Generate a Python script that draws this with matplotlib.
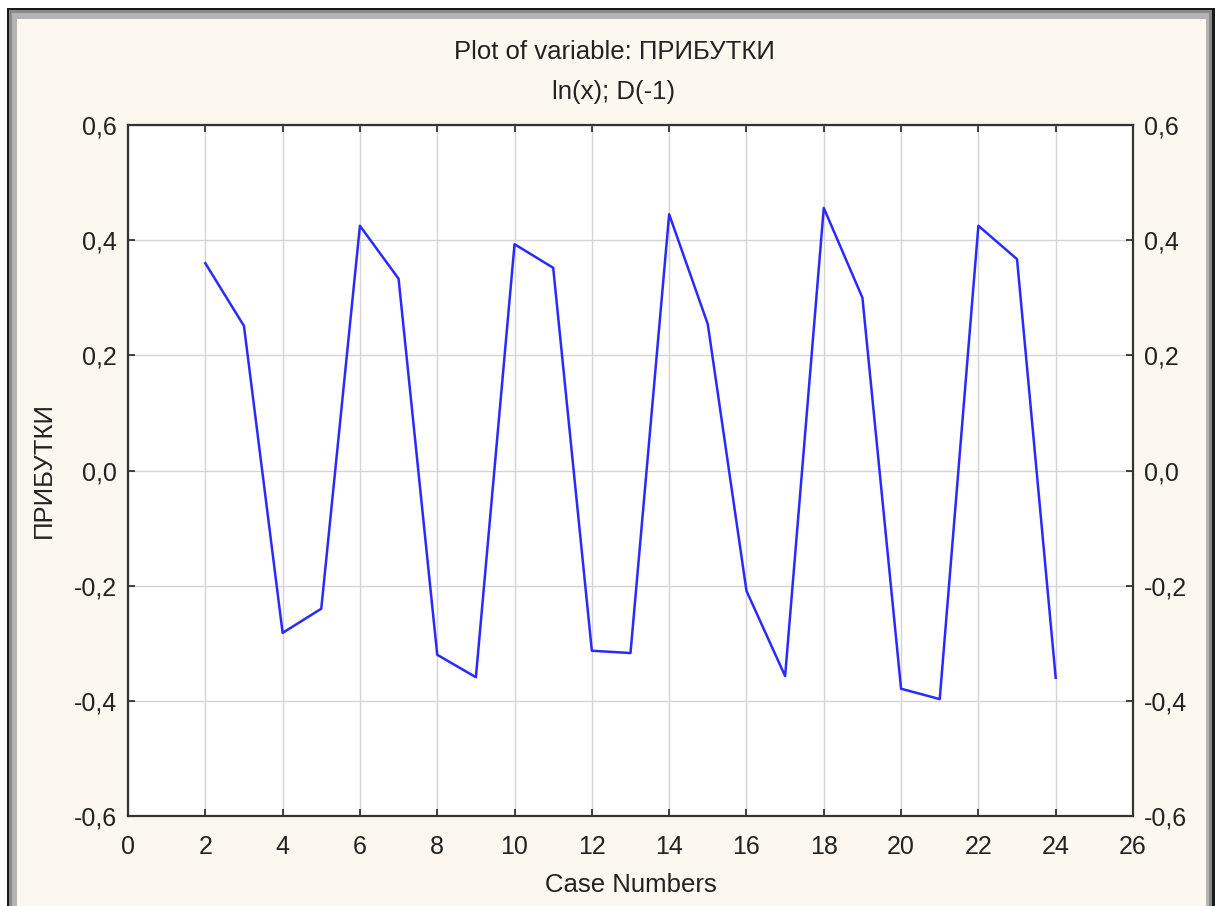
import numpy as np
import matplotlib
matplotlib.use("Agg")
import matplotlib.pyplot as plt
from matplotlib.patches import Rectangle
from matplotlib.ticker import FuncFormatter

plt.rcParams['font.family'] = ['Liberation Sans', 'DejaVu Sans']

# values
case_numbers = [2, 3, 4, 5, 6, 7, 8, 9, 10, 11, 12, 13, 14, 15, 16, 17, 18, 19, 20, 21, 22, 23, 24]
profits = [0.360, 0.251, -0.282, -0.240, 0.425, 0.333, -0.320, -0.359, 0.393, 0.352,
           -0.313, -0.317, 0.445, 0.254, -0.209, -0.357, 0.456, 0.300, -0.379, -0.397,
           0.425, 0.367, -0.360]
x_ticks = list(range(0, 27, 2))
y_ticks = [-0.6, -0.4, -0.2, 0.0, 0.2, 0.4, 0.6]

W, H = 1221, 906
fig = plt.figure(figsize=(W / 100, H / 100), dpi=100)
fig.patch.set_facecolor('white')

# window frame: black outline, gray bevel, cream fill
def px_rect(x0, y0, x1, y1, color):
    fig.patches.append(Rectangle((x0 / W, 1 - y1 / H), (x1 - x0) / W, (y1 - y0) / H,
                                 transform=fig.transFigure, facecolor=color,
                                 edgecolor='none', zorder=-10))

px_rect(7, 8, 1215, 920, '#1a1a1a')
px_rect(9, 10, 1212, 920, '#8a8a8a')
px_rect(12, 13, 1209, 920, '#b4b4b4')
px_rect(17, 19, 1206, 920, '#fdf8ef')

ax = fig.add_axes([128 / W, 1 - 816 / H, (1133 - 128) / W, (816 - 125) / H])
ax.set_facecolor('white')
ax.plot(case_numbers, profits, color='#2a2aff', linewidth=1.8)

ax.set_xlim(0, 26)
ax.set_ylim(-0.6, 0.6)
ax.set_xticks(x_ticks)
ax.set_yticks(y_ticks)
ax.yaxis.set_major_formatter(FuncFormatter(lambda v, p: f"{v:.1f}".replace('.', ',').replace('-0,0', '0,0')))
ax.grid(True, color='#d4d4d4', linewidth=1)
ax.set_axisbelow(True)
ax.tick_params(direction='in', length=5, width=1.2, color='#222222', labelsize=18,
               top=True, right=True, labelright=True, labelcolor='#222222')
ax.tick_params(axis='x', pad=14)
ax.tick_params(axis='y', pad=8)
for s in ax.spines.values():
    s.set_linewidth(1.6)
    s.set_color('#333333')

fig.text(614 / W, 1 - 52 / H, 'Plot of variable: ПРИБУТКИ', ha='center', va='center',
         fontsize=18.5, color='#222222')
fig.text(614 / W, 1 - 92 / H, 'ln(x); D(-1)', ha='center', va='center',
         fontsize=18.5, color='#222222')
fig.text(631 / W, 1 - 885 / H, 'Case Numbers', ha='center', va='center',
         fontsize=18.5, color='#222222')
fig.text(44 / W, 1 - 470 / H, 'ПРИБУТКИ', ha='center', va='center', rotation=90,
         fontsize=18.5, color='#222222')

fig.savefig('out.png', dpi=100, facecolor=fig.get_facecolor())
